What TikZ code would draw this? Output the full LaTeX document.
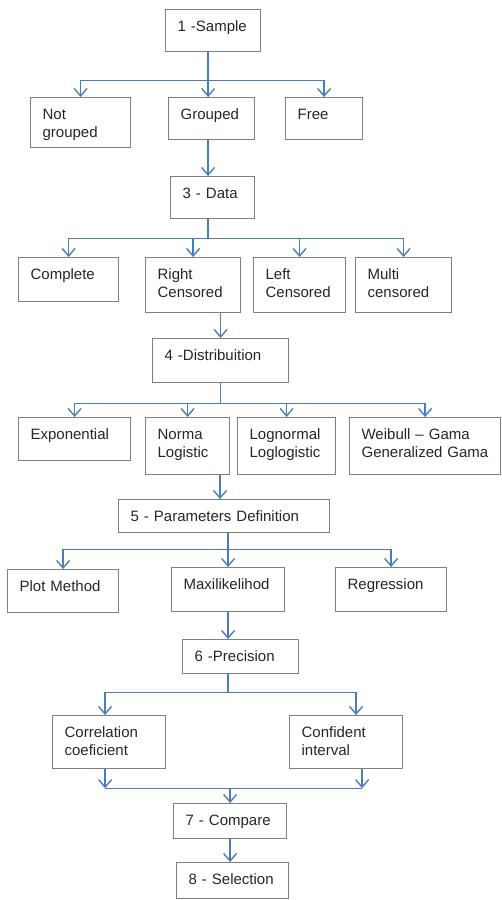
\documentclass[tikz,border=0pt]{standalone}
\usepackage{fontspec}
\setmainfont{Liberation Sans}
\usepackage{tikz}
\usetikzlibrary{arrows.meta}

\definecolor{flowblue}{HTML}{4A7EBB}
\definecolor{boxgray}{HTML}{7F7F7F}
\definecolor{txtgray}{HTML}{262626}

\begin{document}
\begin{tikzpicture}[
            x = 1pt, y = -1pt, % pixel grid, y pointing down
            font = \fontsize{15}{18}\selectfont,
            semithick
        ]

        \tikzstyle{box}=[
            draw = boxgray,
            line width = 1.2pt,
            text = txtgray,
            anchor = north west,
            align = left,
            inner xsep = 12pt,
            inner ysep = 0pt
        ]
        % width x height of a box, text hangs from the top
        \tikzset{size/.style 2 args={
            /utils/exec={\pgfmathsetlengthmacro\boxw{#1-24pt}%
                         \pgfmathsetlengthmacro\boxd{#2-21.5pt}},
            text width = \boxw, text height = 21.5pt, text depth = \boxd}}
        \tikzstyle{link}=[draw = flowblue, line width = 1.4pt]
        \tikzstyle{arr}=[link, -{Straight Barb[length=7.5pt,width=13pt]}]

        \useasboundingbox (0,0) rectangle (501,900);

	% sample
        \node[box, size={95}{42}] (smp) at (165,9) {1 -Sample};
        \node[box, size={100}{50}] (ngr) at (30,97) {Not\\grouped};
        \node[box, size={86}{42}] (grp) at (168,97) {Grouped};
        \node[box, size={77}{42}] (fre) at (285,97) {Free};

        \draw[link] ([xshift=-5pt]smp.south) -- ++(0,28) coordinate (s1);
        \draw[arr] (s1) -| (ngr.north);
        \draw[arr] (s1) -- (s1 |- grp.north);
        \draw[arr] (s1) -| (fre.north);

	% data
        \node[box, size={84}{42}] (dat) at (170,176) {3 - Data};
        \draw[arr] (s1 |- grp.south) -- (s1 |- dat.north);

        \node[box, size={100}{44}] (cmp) at (18,257) {Complete};
        \node[box, size={95}{55}] (rcs) at (145,257) {Right\\Censored};
        \node[box, size={92}{55}] (lcs) at (253,257) {Left\\Censored};
        \node[box, size={96}{55}] (mcs) at (355,257) {Multi\\censored};

        \draw[link] (s1 |- dat.south) -- ++(0,19) coordinate (s2);
        \draw[arr] (s2) -| (cmp.north);
        \draw[arr] (s2) -| (rcs.north);
        \draw[arr] (s2) -| (lcs.north);
        \draw[arr] (s2) -| (mcs.north);

	% distribution
        \node[box, size={136}{44}] (dis) at (152,338) {4 -Distribuition};
        \draw[arr] (rcs.south -| dis.north) -- (dis.north);

        \node[box, size={112}{43}] (exo) at (18,417) {Exponential};
        \node[box, size={84}{57}] (nrm) at (145,417) {Norma\\Logistic};
        \node[box, size={98}{57}] (lgn) at (237,417) {Lognormal\\Loglogistic};
        \node[box, size={151}{57}] (wbl) at (349,417) {Weibull -- Gama\\Generalized Gama};

        \draw[link] (dis.south) -- ++(0,20) coordinate (s3);
        \draw[arr] (s3) -| (exo.north);
        \draw[arr] (s3) -| (nrm.north);
        \draw[arr] (s3) -| (lgn.north);
        \draw[arr] (s3) -| (wbl.north);

	% parameters
        \node[box, size={211}{33}] (prm) at (118,499) {5 - Parameters Definition};
        \draw[arr] ([xshift=-4pt]prm.north |- nrm.south) -- ([xshift=-4pt]prm.north);

        \node[box, size={111}{43}] (plt) at (7,569) {Plot Method};
        \node[box, size={113}{44}] (mxl) at (171,567) {Maxilikelihod};
        \node[box, size={111}{44}] (reg) at (335,567) {Regression};

        \draw[link] (prm.south -| mxl.north) -- ++(0,16) coordinate (s4);
        \draw[arr] (s4) -| (plt.north);
        \draw[arr] (s4) -- (mxl.north);
        \draw[arr] (s4) -| (reg.north);

	% precision
        \node[box, size={116}{34}] (prc) at (182,639) {6 -Precision};
        \draw[arr] (mxl.south) -- (mxl.south |- prc.north);

        \node[box, size={113}{53}] (cor) at (52,715) {Correlation\\coeficient};
        \node[box, size={113}{53}] (cnf) at (289,715) {Confident\\interval};

        \draw[link] (prc.south -| mxl.south) -- ++(0,18) coordinate (s5);
        \draw[arr] (s5) -| ([xshift=-4pt]cor.north);
        \draw[arr] (s5) -| ([xshift=10pt]cnf.north);

	% compare and selection
        \node[box, size={113}{35}] (cpr) at (173,803) {7 - Compare};
        \node[box, size={112}{36}] (sel) at (176,862) {8 - Selection};

        \draw[arr] ([xshift=-4pt]cor.south) -- ++(0,19) coordinate (m1);
        \draw[arr] ([xshift=16pt]cnf.south) -- ++(0,19) coordinate (m2);
        \draw[link] (m1) -- (m2);
        \draw[arr] (m1 -| cpr.north) -- (cpr.north);
        \draw[arr] (cpr.south) -- (cpr.south |- sel.north);

\end{tikzpicture}
\end{document}
